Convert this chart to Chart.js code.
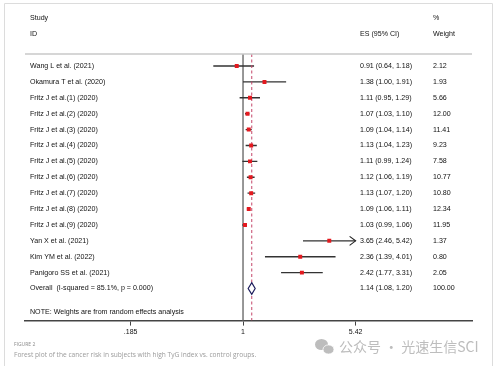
<!DOCTYPE html>
<html>
<head>
<meta charset="utf-8">
<script src="https://cdn.jsdelivr.net/npm/chart.js"></script>
<style>
  html, body { margin: 0; padding: 0; background: #fff; }
  #wrap { position: absolute; left: 0; top: 0; width: 498px; height: 366px; }
</style>
</head>
<body>
<div id="wrap"><canvas id="forest"></canvas></div>
<script>
const studies = [
  'Wang L et al. (2021)',
  'Okamura T et al. (2020)',
  'Fritz J et al.(1) (2020)',
  'Fritz J et al.(2) (2020)',
  'Fritz J et al.(3) (2020)',
  'Fritz J et al.(4) (2020)',
  'Fritz J et al.(5) (2020)',
  'Fritz J et al.(6) (2020)',
  'Fritz J et al.(7) (2020)',
  'Fritz J et al.(8) (2020)',
  'Fritz J et al.(9) (2020)',
  'Yan X et al. (2021)',
  'Kim YM et al. (2022)',
  'Panigoro SS et al. (2021)'
];
const es     = [0.91, 1.38, 1.11, 1.07, 1.09, 1.13, 1.11, 1.12, 1.13, 1.09, 1.03, 3.65, 2.36, 2.42];
const ciLow  = [0.64, 1.00, 0.95, 1.03, 1.04, 1.04, 0.99, 1.06, 1.07, 1.06, 0.99, 2.46, 1.39, 1.77];
const ciHigh = [1.18, 1.91, 1.29, 1.10, 1.14, 1.23, 1.24, 1.19, 1.20, 1.11, 1.06, 5.42, 4.01, 3.31];
const weights = ['2.12', '1.93', '5.66', '12.00', '11.41', '9.23', '7.58', '10.77', '10.80', '12.34', '11.95', '1.37', '0.80', '2.05'];

const overallLabel = 'Overall  (I-squared = 85.1%, p = 0.000)';
const overallEs = 1.14;
const overallLow = 1.08;
const overallHigh = 1.20;
const overallWeight = '100.00';
const noteText = 'NOTE: Weights are from random effects analysis';

const tickValues = [0.185, 1, 5.42];
const tickLabels = ['.185', '1', '5.42'];

const captionTitle = 'FIGURE 2';
const captionText = 'Forest plot of the cancer risk in subjects with high TyG index vs. control groups.';
const watermark = '公众号 · 光速生信SCI';

// axis range / row range
const xMin = 0.0379, xMax = 31.1;
const yMin = -0.757, yMax = 16.02;
const overallRow = studies.length;

const fmt = v => v.toFixed(2);
const esText = (e, lo, hi) => fmt(e) + ' (' + fmt(lo) + ', ' + fmt(hi) + ')';

const textFont = '7.1px "Liberation Sans", Arial, sans-serif';

const forestText = {
  id: 'forestText',
  beforeDraw(chart) {
    const ctx = chart.ctx;
    ctx.save();
    ctx.strokeStyle = '#dcdcdc';
    ctx.lineWidth = 1;
    ctx.beginPath();
    ctx.moveTo(4.5, 370);
    ctx.lineTo(4.5, 3.5);
    ctx.lineTo(492.5, 3.5);
    ctx.lineTo(492.5, 370);
    ctx.stroke();
    ctx.restore();
  },
  afterDatasetsDraw(chart) {
    const ctx = chart.ctx;
    const xs = chart.scales.x, ys = chart.scales.y;
    const area = chart.chartArea;
    ctx.save();
    // header rule
    ctx.strokeStyle = '#c8c8c8';
    ctx.lineWidth = 1.5;
    ctx.beginPath();
    ctx.moveTo(area.left, area.top);
    ctx.lineTo(area.right, area.top);
    ctx.stroke();

    // arrow where CI reaches the axis limit
    ctx.strokeStyle = '#222';
    ctx.lineWidth = 1.1;
    ciHigh.forEach((hi, i) => {
      if (hi >= tickValues[tickValues.length - 1]) {
        const px = xs.getPixelForValue(hi), py = ys.getPixelForValue(i);
        ctx.beginPath();
        ctx.moveTo(px - 6, py - 4.5);
        ctx.lineTo(px, py);
        ctx.lineTo(px - 6, py + 4.5);
        ctx.stroke();
      }
    });

    // overall diamond
    const dl = xs.getPixelForValue(overallLow), dr = xs.getPixelForValue(overallHigh);
    const dc = xs.getPixelForValue(overallEs), dy = ys.getPixelForValue(overallRow);
    ctx.fillStyle = '#fff';
    ctx.strokeStyle = '#1c1c5c';
    ctx.lineWidth = 1.2;
    ctx.beginPath();
    ctx.moveTo(dl, dy);
    ctx.lineTo(dc, dy - 5.8);
    ctx.lineTo(dr, dy);
    ctx.lineTo(dc, dy + 5.8);
    ctx.closePath();
    ctx.fill();
    ctx.stroke();
    ctx.restore();
  },
  afterDraw(chart) {
    const ctx = chart.ctx;
    const ys = chart.scales.y;
    const colLabel = 30, colEs = 360, colW = 433;
    ctx.save();
    ctx.fillStyle = '#111';
    ctx.font = textFont;
    ctx.textBaseline = 'middle';
    ctx.textAlign = 'left';
    ctx.fillText('Study', colLabel, ys.getPixelForValue(-3));
    ctx.fillText('ID', colLabel, ys.getPixelForValue(-2));
    ctx.fillText('%', colW, ys.getPixelForValue(-3));
    ctx.fillText('Weight', colW, ys.getPixelForValue(-2));
    ctx.fillText('ES (95% CI)', colEs, ys.getPixelForValue(-2));

    studies.forEach((s, i) => {
      const y = ys.getPixelForValue(i);
      ctx.fillText(s, colLabel, y);
      ctx.fillText(esText(es[i], ciLow[i], ciHigh[i]), colEs, y);
      ctx.fillText(weights[i], colW, y);
    });
    const oy = ys.getPixelForValue(overallRow);
    ctx.fillText(overallLabel, colLabel, oy);
    ctx.fillText(esText(overallEs, overallLow, overallHigh), colEs, oy);
    ctx.fillText(overallWeight, colW, oy);
    ctx.fillText(noteText, colLabel, ys.getPixelForValue(overallRow + 1.45));

    // caption
    ctx.fillStyle = '#8a8a8a';
    ctx.font = '5px "Open Sans", sans-serif';
    ctx.fillText(captionTitle, 14, 345);
    ctx.fillStyle = '#9a9a9a';
    ctx.font = '6.6px "Open Sans", sans-serif';
    ctx.fillText(captionText, 14, 355.5);

    // watermark
    ctx.fillStyle = '#bdbdbd';
    ctx.beginPath();
    ctx.ellipse(321.5, 344.5, 6.5, 5.5, 0, 0, Math.PI * 2);
    ctx.fill();
    ctx.beginPath();
    ctx.ellipse(328.5, 349.5, 5.5, 4.6, 0, 0, Math.PI * 2);
    ctx.fill();
    ctx.strokeStyle = '#fff';
    ctx.lineWidth = 0.8;
    ctx.beginPath();
    ctx.ellipse(328.5, 349.5, 5.5, 4.6, 0, 0, Math.PI * 2);
    ctx.stroke();
    ctx.fillStyle = '#bdbdbd';
    ctx.font = '14px "Noto Sans CJK SC", sans-serif';
    ctx.fillText(watermark, 339, 347);
    ctx.restore();
  }
};

const ciData = studies.flatMap((s, i) => [
  { x: ciLow[i], y: i },
  { x: ciHigh[i], y: i },
  { x: null, y: null }
]);

new Chart(document.getElementById('forest'), {
  type: 'scatter',
  data: {
    datasets: [
      {
        label: 'ES',
        data: es.map((v, i) => ({ x: v, y: i })),
        pointStyle: 'rect',
        pointRadius: 2.8,
        backgroundColor: '#e3191f',
        borderWidth: 0,
        order: 0
      },
      {
        label: 'Overall',
        type: 'line',
        data: [{ x: overallEs, y: yMin }, { x: overallEs, y: yMax }],
        borderColor: '#c4466a',
        borderWidth: 1,
        borderDash: [3, 2.5],
        pointRadius: 0,
        order: 1
      },
      {
        label: 'CI',
        type: 'line',
        data: ciData,
        borderColor: '#333',
        borderWidth: 1.4,
        pointRadius: 0,
        spanGaps: false,
        order: 2
      },
      {
        label: 'Null',
        type: 'line',
        data: [{ x: 1, y: yMin }, { x: 1, y: yMax }],
        borderColor: '#8c8c8c',
        borderWidth: 1.8,
        pointRadius: 0,
        order: 3
      }
    ]
  },
  options: {
    responsive: true,
    maintainAspectRatio: false,
    animation: false,
    layout: { padding: { left: 25, right: 26, top: 54, bottom: 28 } },
    plugins: { legend: { display: false }, tooltip: { enabled: false } },
    scales: {
      x: {
        type: 'logarithmic',
        min: xMin,
        max: xMax,
        afterBuildTicks: scale => { scale.ticks = tickValues.map(v => ({ value: v })); },
        grid: { drawOnChartArea: false, drawTicks: true, tickLength: 5, color: '#444', lineWidth: 1 },
        border: { display: true, color: '#444', width: 1.5 },
        ticks: {
          autoSkip: false,
          maxRotation: 0,
          padding: 2,
          color: '#111',
          font: { family: '"Liberation Sans", Arial, sans-serif', size: 7 },
          callback: (v, i) => tickLabels[i]
        }
      },
      y: {
        type: 'linear',
        reverse: true,
        min: yMin,
        max: yMax,
        display: false
      }
    }
  },
  plugins: [forestText]
});
</script>
</body>
</html>
